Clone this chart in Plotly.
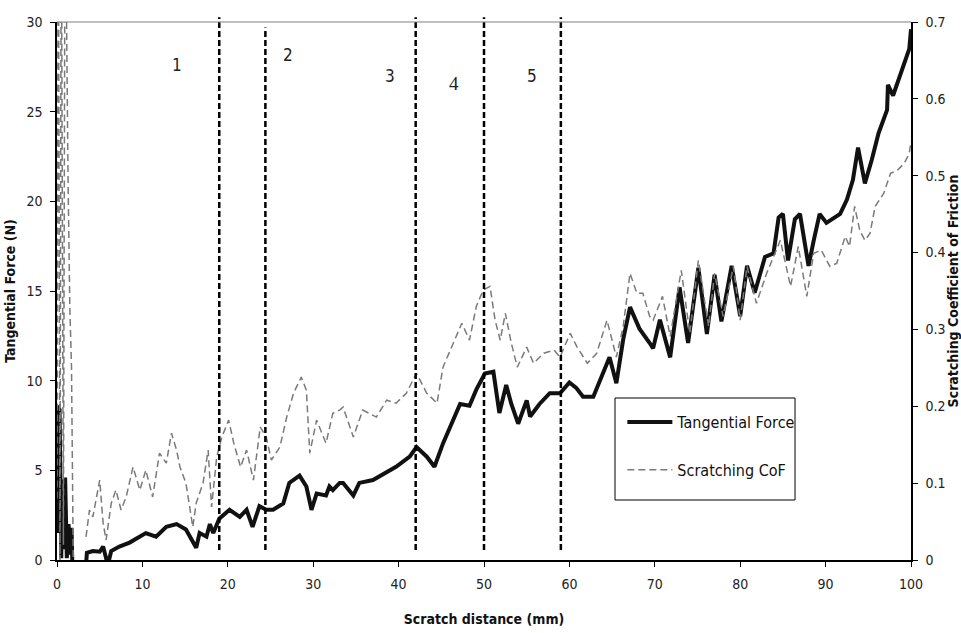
import plotly.graph_objects as go

# Scratch test: tangential force (left axis) and scratching CoF (right axis)
force_x = [0.0, 0.1, 0.3, 0.4, 0.5, 0.6, 0.75, 0.95, 1.15, 1.35, 1.55, 1.7, 1.85,
           3.4, 3.5, 4.2, 5.0, 5.4, 5.95, 6.35, 7.3, 8.5, 9.7, 10.4, 11.6, 12.8, 14.0,
           15.1, 16.3, 16.7, 17.5, 17.9, 18.3, 19.0, 20.2, 21.4, 22.2, 22.9, 23.7, 24.5,
           25.3, 26.5, 27.2, 28.4, 29.2, 29.8, 30.4, 31.5, 31.9, 32.3, 33.1, 33.5, 34.7,
           35.4, 37.0, 38.2, 39.7, 41.3, 42.1, 43.3, 44.2, 45.2, 46.0, 47.2, 48.3, 49.1,
           50.1, 51.1, 51.8, 52.6, 53.2, 54.0, 55.0, 55.4, 56.5, 57.7, 58.9, 60.0, 60.8,
           61.6, 62.8, 63.6, 64.7, 65.5, 66.3, 67.1, 68.2, 69.4, 69.8, 70.6, 71.8, 72.9,
           73.9, 75.1, 76.1, 77.0, 77.8, 79.0, 80.0, 80.8, 81.7, 82.9, 83.9, 84.5, 85.0,
           85.6, 86.4, 87.0, 88.0, 88.6, 89.3, 90.1, 90.7, 91.7, 92.5, 93.2, 93.8, 94.6,
           95.4, 96.2, 97.2, 97.3, 97.9, 98.5, 99.5, 99.8, 100.0]
force_y = [1.5, 8.6, 8.4, 1.2, 0.1, 4.5, 0.6, 4.6, 0.1, 2.0, 0.3, 1.8, -1.3,
           -0.28, 0.4, 0.5, 0.46, 0.75, -0.28, 0.5, 0.75, 0.97, 1.3, 1.5, 1.3, 1.85, 2.0,
           1.7, 0.68, 1.5, 1.3, 2.0, 1.5, 2.3, 2.8, 2.4, 2.8, 1.85, 3.0, 2.8,
           2.8, 3.15, 4.3, 4.7, 4.1, 2.8, 3.7, 3.6, 4.1, 3.9, 4.3, 4.3, 3.6,
           4.3, 4.46, 4.8, 5.2, 5.76, 6.3, 5.76, 5.2, 6.5, 7.4, 8.7, 8.6, 9.5,
           10.4, 10.5, 8.2, 9.76, 8.7, 7.6, 8.9, 8.0, 8.7, 9.3, 9.3, 9.9, 9.6,
           9.1, 9.1, 10.0, 11.3, 9.86, 12.3, 14.1, 12.9, 12.1, 11.8, 13.4, 11.3, 15.2,
           12.1, 16.3, 12.6, 15.9, 13.3, 16.4, 13.6, 16.4, 14.9, 16.9, 17.1, 19.1, 19.3,
           16.7, 19.0, 19.3, 16.4, 17.8, 19.3, 18.8, 19.0, 19.3, 20.1, 21.2, 23.0, 21.0,
           22.3, 23.8, 25.1, 26.5, 25.9, 26.7, 28.1, 28.5, 29.6]

cof_x = [0.0, 0.15, 0.35, 0.5, 0.75, 0.95, 1.3, 1.5, 1.7, 1.9, None,
         3.4, 3.8, 4.2, 4.6, 5.0, 5.4, 5.75, 6.35, 6.9, 7.5, 8.1, 8.9, 9.7, 10.4,
         11.2, 12.0, 12.8, 13.4, 14.0, 14.4, 15.1, 15.9, 16.3, 17.1, 17.7, 18.1, 18.7,
         19.3, 20.1, 20.7, 21.5, 22.2, 23.0, 23.8, 24.5, 25.1, 26.1, 26.9, 27.7, 28.6,
         29.2, 29.6, 30.4, 31.5, 31.9, 32.3, 33.1, 33.5, 34.7, 35.8, 37.4, 38.6, 39.7,
         40.9, 42.1, 43.3, 44.5, 45.2, 46.4, 47.4, 48.3, 49.1, 49.9, 50.7, 51.3, 51.9,
         52.5, 53.2, 53.9, 55.0, 55.8, 57.0, 58.2, 58.9, 60.1, 60.9, 62.1, 63.2, 64.4,
         65.5, 66.3, 67.1, 67.9, 68.6, 69.4, 69.8, 70.9, 71.8, 73.1, 74.1, 75.1, 76.3,
         77.0, 78.0, 79.2, 80.0, 80.8, 81.9, 83.1, 84.7, 85.9, 86.8, 87.8, 88.6, 89.5,
         90.5, 91.3, 92.3, 92.8, 93.4, 94.0, 94.6, 95.2, 95.8, 96.8, 97.6, 98.4, 99.2,
         99.8, 100.0]
cof_y = [0.08, 0.9, 0.0, 0.9, 0.02, 0.9, 0.49, 0.33, 0.25, 0.0, None,
         0.030, 0.065, 0.056, 0.078, 0.104, 0.048, 0.026, 0.074, 0.091, 0.065, 0.082, 0.121, 0.091, 0.117,
         0.082, 0.139, 0.126, 0.165, 0.143, 0.121, 0.100, 0.043, 0.074, 0.100, 0.143, 0.069, 0.134,
         0.160, 0.182, 0.152, 0.121, 0.143, 0.104, 0.173, 0.160, 0.130, 0.147, 0.186, 0.217, 0.238,
         0.221, 0.139, 0.182, 0.152, 0.173, 0.191, 0.195, 0.199, 0.160, 0.195, 0.186, 0.208, 0.204,
         0.217, 0.243, 0.217, 0.204, 0.251, 0.282, 0.308, 0.286, 0.330, 0.351, 0.356, 0.312, 0.286,
         0.321, 0.282, 0.251, 0.277, 0.256, 0.269, 0.273, 0.264, 0.295, 0.277, 0.256, 0.269, 0.312,
         0.264, 0.304, 0.373, 0.347, 0.347, 0.317, 0.312, 0.343, 0.291, 0.377, 0.295, 0.390, 0.304,
         0.373, 0.317, 0.382, 0.312, 0.382, 0.334, 0.373, 0.416, 0.356, 0.408, 0.343, 0.399, 0.403,
         0.382, 0.386, 0.421, 0.408, 0.460, 0.429, 0.416, 0.425, 0.460, 0.477, 0.503, 0.507, 0.516,
         0.529, 0.545]

# Stage boundaries and stage labels
boundary_x = [19.0, 24.4, 42.0, 50.0, 59.0]
boundary_top = [1.009, 0.99, 1.009, 1.009, 1.009]
stage_labels = ["1", "2", "3", "4", "5"]
stage_x = [14.1, 27.0, 39.0, 46.5, 55.6]
stage_y = [0.92, 0.939, 0.90, 0.885, 0.90]
stage_font = ["narrow", "narrow", "narrow", "serif", "narrow"]

NARROW = "DejaVu Sans Condensed, Liberation Sans Narrow, Arial Narrow, sans-serif"
SERIF = "Liberation Serif, Times New Roman, serif"

fig = go.Figure()
fig.add_trace(go.Scatter(
    x=force_x, y=force_y, mode="lines", name="Tangential Force",
    line=dict(color="#111111", width=4), legendgroup="f", yaxis="y"))
fig.add_trace(go.Scatter(
    x=cof_x, y=cof_y, mode="lines", name="Scratching CoF",
    line=dict(color="#7a7a7a", width=1.5, dash="7px,4px"), legendgroup="c",
    yaxis="y2", connectgaps=False))

for bx, bt in zip(boundary_x, boundary_top):
    fig.add_shape(type="line", xref="x", yref="paper", x0=bx, x1=bx, y0=0.0186, y1=bt,
                  line=dict(color="black", width=2.5, dash="6px,3px"))

# thin grey frame along the top of the plot area
fig.add_shape(type="line", xref="paper", yref="paper", x0=0, x1=1, y0=1, y1=1,
              line=dict(color="#808080", width=1))

# legend frame
fig.add_shape(type="rect", xref="paper", yref="paper", x0=0.6534, x1=0.8642,
              y0=0.1115, y1=0.3011, line=dict(color="black", width=1),
              fillcolor="white", layer="above")

for lab, sx, sy, sf in zip(stage_labels, stage_x, stage_y, stage_font):
    fig.add_annotation(x=sx, y=sy, xref="x", yref="paper", text=lab, showarrow=False,
                       yanchor="middle", xanchor="center",
                       font=dict(family=SERIF if sf == "serif" else NARROW,
                                 size=19 if sf == "serif" else 17, color="#222"))

axis_common = dict(showgrid=False, zeroline=False, showline=True, linecolor="black",
                   linewidth=1.5, ticks="outside", ticklen=5, tickcolor="black",
                   automargin=False, ticklabelstandoff=5,
                   tickfont=dict(family=NARROW, size=14, color="#222"))

fig.update_layout(
    width=961, height=633,
    margin=dict(l=57, r=50, t=22, b=73),
    paper_bgcolor="white", plot_bgcolor="white",
    font=dict(family=NARROW, color="#222"),
    xaxis=dict(range=[0, 100], dtick=10, tick0=0,
               title=dict(text="<b>Scratch distance (mm)</b>", standoff=24,
                          font=dict(family=NARROW, size=14, color="#111")),
               **axis_common),
    yaxis=dict(range=[0, 30], dtick=5,
               title=dict(text="<b>Tangential Force (N)</b>", standoff=8,
                          font=dict(family=NARROW, size=14, color="#111")),
               **axis_common),
    yaxis2=dict(range=[0, 0.7], dtick=0.1, overlaying="y", side="right",
                tickformat=".1~f",
                title=dict(text="<b>Scratching Coefficient of Friction</b>", standoff=6,
                           font=dict(family=NARROW, size=14, color="#111")),
                **axis_common),
    legend=dict(x=0.662, y=0.288, xanchor="left", yanchor="top",
                borderwidth=0, bgcolor="rgba(0,0,0,0)", itemwidth=45,
                font=dict(family=NARROW, size=16, color="#111"),
                tracegroupgap=24, traceorder="grouped"),
    showlegend=True,
)

fig.write_html("out.html")
